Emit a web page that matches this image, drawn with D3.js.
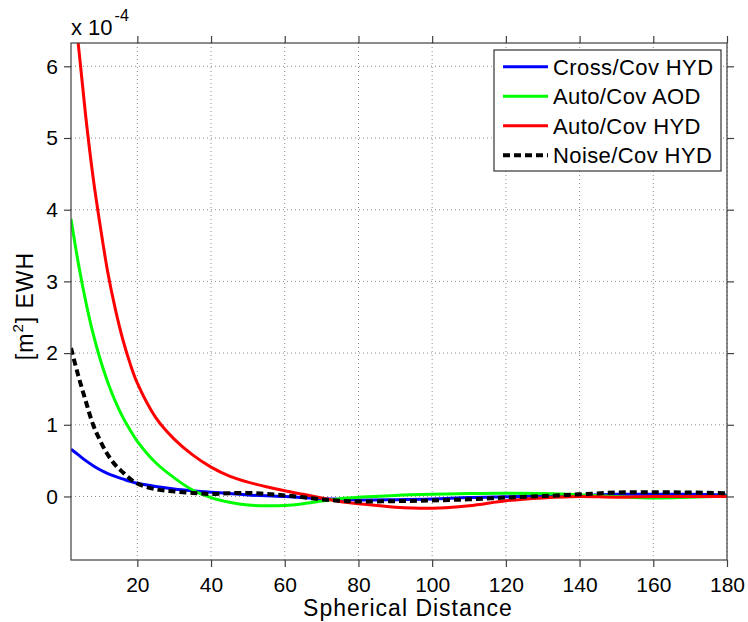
<!DOCTYPE html>
<html>
<head>
<meta charset="utf-8">
<script src="https://cdn.jsdelivr.net/npm/d3@7"></script>
<style>
    body { margin: 0; background: #fff; }
    text { font-family: "Liberation Sans", Arial, sans-serif; fill: #000; }
    .grid line { stroke: #8c8c8c; stroke-width: 1; stroke-dasharray: 1,3; }
</style>
</head>
<body>
<div id="chart"></div>
<script>
// spherical distance samples (shared by every series)
var distances = [2, 4, 6, 8, 10, 12, 14, 16, 18, 20, 25, 30, 35, 40, 45, 50, 55, 60, 65, 70,
                 75, 80, 90, 100, 110, 120, 130, 140, 150, 160, 170, 180];

// values in units of 1e-4 m^2 EWH
var crossCovHyd = [0.66, 0.58, 0.50, 0.43, 0.37, 0.32, 0.28, 0.245, 0.21, 0.185, 0.14, 0.105, 0.08, 0.06, 0.04, 0.02,
                   0.01, 0.0, -0.015, -0.03, -0.04, -0.05, -0.045, -0.035, -0.015, -0.005, 0.005, 0.015, 0.03, 0.03, 0.03, 0.02];
var autoCovAod = [3.87, 3.25, 2.72, 2.27, 1.90, 1.59, 1.33, 1.11, 0.93, 0.77, 0.47, 0.26, 0.09, -0.015, -0.08, -0.12,
                  -0.13, -0.125, -0.10, -0.065, -0.03, -0.01, 0.015, 0.03, 0.04, 0.045, 0.04, 0.025, 0.0, -0.02, -0.01, 0.005];
var autoCovHyd = [7.5, 6.3, 5.3, 4.45, 3.75, 3.12, 2.62, 2.2, 1.86, 1.58, 1.1, 0.8, 0.58, 0.41, 0.285, 0.2,
                  0.135, 0.08, 0.03, -0.02, -0.07, -0.10, -0.15, -0.165, -0.13, -0.06, -0.02, 0.0, -0.01, 0.0, 0.0, 0.0];
var noiseCovHyd = [2.07, 1.68, 1.33, 1.0, 0.77, 0.58, 0.44, 0.34, 0.25, 0.18, 0.10, 0.07, 0.05, 0.035, 0.045, 0.05,
                   0.035, 0.015, -0.01, -0.04, -0.06, -0.07, -0.065, -0.055, -0.04, -0.015, 0.005, 0.03, 0.055, 0.06, 0.055, 0.045];

var seriesNames = ["Cross/Cov HYD", "Auto/Cov AOD", "Auto/Cov HYD", "Noise/Cov HYD"];
var seriesValues = [crossCovHyd, autoCovAod, autoCovHyd, noiseCovHyd];
var seriesColors = ["#0000ff", "#00ff00", "#ff0000", "#000000"];

var xTicks = [20, 40, 60, 80, 100, 120, 140, 160, 180];
var yTicks = [0, 1, 2, 3, 4, 5, 6];

/**
 * Draws the covariance line chart
 */
function CovChart() {
    var self = this;
    self.width = 748;
    self.height = 622;
    self.plot = {left: 71, top: 43, right: 727, bottom: 560};
    self.init();
}

CovChart.prototype.init = function() {
    var self = this;
    var p = self.plot;

    self.svg = d3.select("#chart").append("svg")
        .attr("width", self.width)
        .attr("height", self.height);

    self.x = d3.scaleLinear().domain([2, 180]).range([p.left, p.right]);
    self.y = d3.scaleLinear().domain([-0.886, 6.325]).range([p.bottom, p.top]);

    //dotted grid
    var grid = self.svg.append("g").attr("class", "grid");
    grid.selectAll(".gx").data(xTicks).enter().append("line")
        .attr("x1", function(d) { return self.x(d); })
        .attr("x2", function(d) { return self.x(d); })
        .attr("y1", p.top).attr("y2", p.bottom);
    grid.selectAll(".gy").data(yTicks).enter().append("line")
        .attr("y1", function(d) { return self.y(d); })
        .attr("y2", function(d) { return self.y(d); })
        .attr("x1", p.left).attr("x2", p.right);

    self.svg.append("clipPath").attr("id", "clip")
        .append("rect")
        .attr("x", p.left).attr("y", p.top)
        .attr("width", p.right - p.left).attr("height", p.bottom - p.top);

    var line = d3.line()
        .x(function(d) { return self.x(d[0]); })
        .y(function(d) { return self.y(d[1]); })
        .curve(d3.curveCatmullRom.alpha(0.5));

    self.svg.append("g").attr("clip-path", "url(#clip)")
        .selectAll("path")
        .data(seriesValues)
        .enter()
        .append("path")
        .attr("d", function(vals) {
            return line(vals.map(function(v, i) { return [distances[i], v]; }));
        })
        .attr("fill", "none")
        .attr("stroke", function(d, i) { return seriesColors[i]; })
        .attr("stroke-width", function(d, i) { return i == 3 ? 4 : 3; })
        .attr("stroke-dasharray", function(d, i) { return i == 3 ? "7,4" : null; });

    // axes: ticks point outwards on all four sides
    var tickLen = 7;
    self.svg.append("g").attr("transform", "translate(0," + p.bottom + ")")
        .call(d3.axisBottom(self.x).tickValues(xTicks).tickSize(tickLen).tickPadding(10))
        .call(self.styleAxis);
    self.svg.append("g").attr("transform", "translate(0," + p.top + ")")
        .call(d3.axisTop(self.x).tickValues(xTicks).tickSize(tickLen).tickFormat(""))
        .call(self.styleAxis);
    self.svg.append("g").attr("transform", "translate(" + p.left + ",0)")
        .call(d3.axisLeft(self.y).tickValues(yTicks).tickSize(tickLen).tickPadding(6))
        .call(self.styleAxis);
    self.svg.append("g").attr("transform", "translate(" + p.right + ",0)")
        .call(d3.axisRight(self.y).tickValues(yTicks).tickSize(tickLen).tickFormat(""))
        .call(self.styleAxis);

    self.svg.append("rect")
        .attr("x", p.left).attr("y", p.top)
        .attr("width", p.right - p.left).attr("height", p.bottom - p.top)
        .attr("fill", "none").attr("stroke", "#404040").attr("stroke-width", 1.2);

    // exponent label
    var expo = self.svg.append("text").attr("x", p.left).attr("y", 35)
        .style("font-size", "22px");
    expo.append("tspan").text("x 10");
    expo.append("tspan").attr("dx", 2).attr("dy", -14).style("font-size", "16px").text("-4");

    self.svg.append("text")
        .attr("x", (p.left + p.right) / 2 + 9).attr("y", 616)
        .attr("text-anchor", "middle")
        .style("font-size", "23px").style("letter-spacing", "1px")
        .text("Spherical Distance");

    var ylab = self.svg.append("text")
        .attr("transform", "translate(33," + 306 + ") rotate(-90)")
        .attr("text-anchor", "middle")
        .style("font-size", "23px").style("letter-spacing", "1px");
    ylab.append("tspan").text("[m");
    ylab.append("tspan").attr("dy", -10).style("font-size", "15px").text("2");
    ylab.append("tspan").attr("dy", 10).text("] EWH");

    self.drawLegend();
};

CovChart.prototype.styleAxis = function(g) {
    g.select(".domain").remove();
    g.selectAll(".tick line").attr("stroke", "#404040").attr("stroke-width", 1.2);
    g.selectAll(".tick text").style("font-size", "21px")
        .style("font-family", "'Liberation Sans', Arial, sans-serif").attr("fill", "#000");
};

/**
 * Legend box in the top right corner
 */
CovChart.prototype.drawLegend = function() {
    var self = this;
    var lg = self.svg.append("g").attr("transform", "translate(494,50)");
    lg.append("rect").attr("width", 227).attr("height", 121)
        .attr("fill", "#fff").attr("stroke", "#333").attr("stroke-width", 1.2);

    var rows = lg.selectAll(".row").data(seriesNames).enter().append("g")
        .attr("transform", function(d, i) { return "translate(0," + (16.7 + i * 29.5) + ")"; });
    rows.append("line")
        .attr("x1", 9).attr("x2", 54)
        .attr("stroke", function(d, i) { return seriesColors[i]; })
        .attr("stroke-width", function(d, i) { return i == 3 ? 4 : 3; })
        .attr("stroke-dasharray", function(d, i) { return i == 3 ? "7,4" : null; });
    rows.append("text")
        .attr("x", 59).attr("dy", "0.36em")
        .style("font-size", "22px").style("letter-spacing", "0.4px")
        .text(function(d) { return d; });
};

var chart = new CovChart();
</script>
</body>
</html>
